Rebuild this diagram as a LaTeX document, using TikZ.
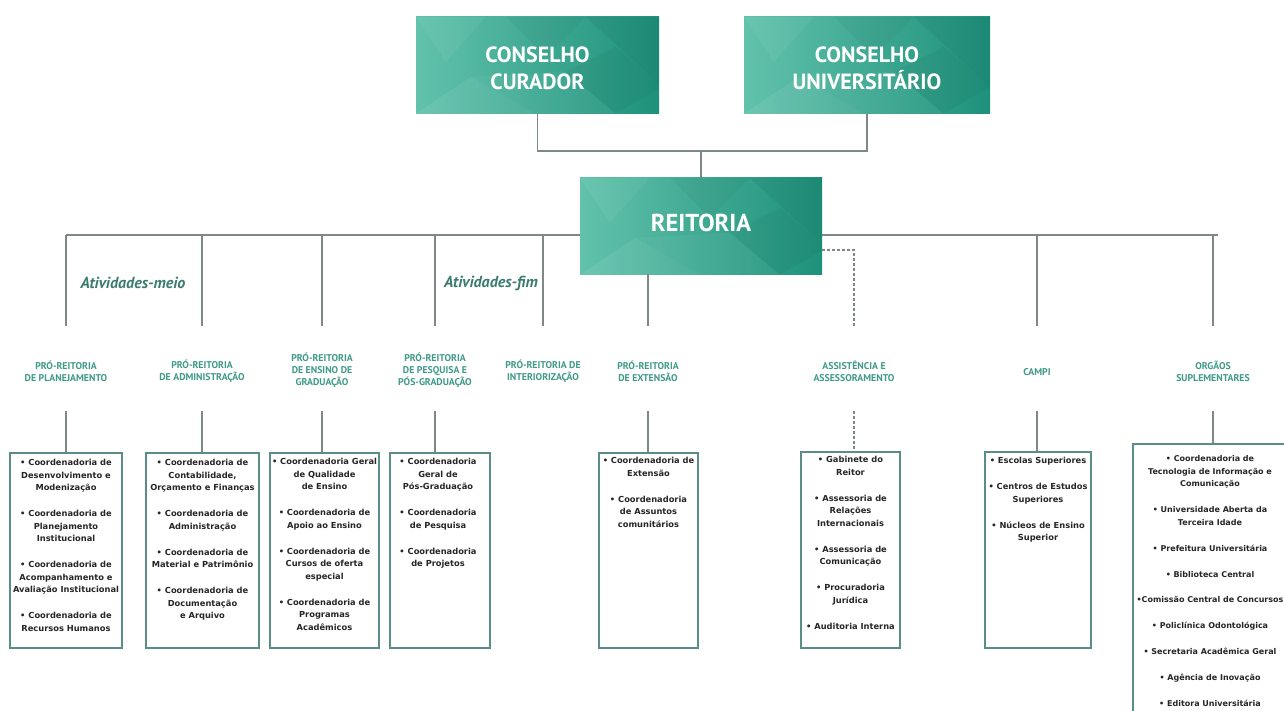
\documentclass[tikz,border=0pt]{standalone}
\usepackage{fontspec}
\setmainfont{PT Sans}
\newfontfamily\boxfont{DejaVu Sans}
\definecolor{tealL}{HTML}{62C2AC}
\definecolor{tealD}{HTML}{1E917B}
\definecolor{lineC}{HTML}{7E8888}
\definecolor{boxC}{HTML}{5A8D88}
\definecolor{hdrC}{HTML}{3F9A87}
\definecolor{atvC}{HTML}{3A7C70}
\newcommand{\isep}{\\[13.5pt]}
\newcommand{\facets}[1]{%
  \begin{scope}
    \clip (#1.north west) rectangle (#1.south east);
    \begin{scope}[shift={(#1.north west)}]
      \fill[white,opacity=.07] (0,97) -- (55,60) -- (120,97) -- cycle;
      \fill[white,opacity=.05] (0,0) -- (70,0) -- (30,45) -- cycle;
      \fill[white,opacity=.04] (55,60) -- (120,97) -- (150,55) -- cycle;
      \fill[black,opacity=.05] (170,0) -- (246,0) -- (246,70) -- cycle;
      \fill[black,opacity=.04] (150,55) -- (200,97) -- (246,70) -- (200,30) -- cycle;
      \fill[black,opacity=.03] (90,0) -- (170,0) -- (130,40) -- cycle;
      \fill[white,opacity=.04] (120,97) -- (200,97) -- (150,55) -- cycle;
    \end{scope}
  \end{scope}}
\begin{document}
\begin{tikzpicture}[x=1pt,y=-1pt,
  conn/.style={draw=lineC, line width=1.2pt},
  dconn/.style={draw=lineC, line width=1.2pt, dash pattern=on 3pt off 2pt},
  topbox/.style={rectangle, inner sep=0, left color=tealL, right color=tealD},
  toptext/.style={text=white, font=\bfseries\fontsize{22}{27}\selectfont, align=center, inner sep=0},
  hdr/.style={text=hdrC, font=\bfseries\fontsize{9.8}{12}\selectfont, align=center, inner sep=0},
  obox/.style={draw=boxC, line width=1.2pt, rectangle, inner sep=0},
  otext/.style={text=black!85, font=\boxfont\bfseries\fontsize{8.3}{12.5}\selectfont, align=center, inner sep=0, anchor=north},
  atv/.style={text=atvC, font=\bfseries\itshape\fontsize{16}{18}\selectfont, inner sep=0}
]
\useasboundingbox (0,0) rectangle (1284,711);
\clip (0,0) rectangle (1284,711);
\fill[white] (0,0) rectangle (1284,711);

% bus coordinates
\coordinate (jt) at (701,151);
\coordinate (busL) at (66,235);
\coordinate (busR) at (1218,235);
\coordinate (dend) at (0,326);
\coordinate (hbot) at (0,411);

% headers
\node[hdr] (h1) at (66,371) {PRÓ-REITORIA\\DE PLANEJAMENTO};
\node[hdr] (h2) at (202,371) {PRÓ-REITORIA\\DE ADMINISTRAÇÃO};
\node[hdr] (h3) at (322,370) {PRÓ-REITORIA\\DE ENSINO DE\\GRADUAÇÃO};
\node[hdr] (h4) at (435,370) {PRÓ-REITORIA\\DE PESQUISA E\\PÓS-GRADUAÇÃO};
\node[hdr] (h5) at (543,371) {PRÓ-REITORIA DE\\INTERIORIZAÇÃO};
\node[hdr] (h6) at (648,371) {PRÓ-REITORIA\\DE EXTENSÃO};
\node[hdr] (h7) at (854,371) {ASSISTÊNCIA E\\ASSESSORAMENTO};
\node[hdr] (h8) at (1037,372) {CAMPI};
\node[hdr] (h9) at (1213,371) {ORGÃOS\\SUPLEMENTARES};

% top connectors
\draw[conn] (busL) -- (busR);
\foreach \h in {h1,h2,h3,h4,h5,h8,h9}{
  \draw[conn] (\h |- busL) -- (\h |- dend);
}

% boxes (outline)
\node[obox, minimum width=112pt, minimum height=195pt] (b1) at (66,550.5) {};
\node[obox, minimum width=113pt, minimum height=195pt] (b2) at (202.5,550.5) {};
\node[obox, minimum width=109pt, minimum height=195pt] (b3) at (324.5,550.5) {};
\node[obox, minimum width=100pt, minimum height=195pt] (b4) at (440,550.5) {};
\node[obox, minimum width=99pt, minimum height=195pt] (b6) at (648.5,550.5) {};
\node[obox, minimum width=99pt, minimum height=196pt] (b7) at (850.5,550) {};
\node[obox, minimum width=106pt, minimum height=196pt] (b8) at (1038,550) {};
\node[obox, minimum width=170pt, minimum height=290pt] (b9) at (1218,589) {};

% lower drops
\draw[conn] (h1 |- hbot) -- (h1 |- b1.north);
\draw[conn] (h2 |- hbot) -- (h2 |- b2.north);
\draw[conn] (h3 |- hbot) -- (h3 |- b3.north);
\draw[conn] (h4 |- hbot) -- (h4 |- b4.north);
\draw[conn] (h6 |- hbot) -- (h6 |- b6.north);
\draw[dconn] (h7 |- hbot) -- (h7 |- b7.north);
\draw[conn] (h8 |- hbot) -- (h8 |- b8.north);
\draw[conn] (h9 |- hbot) -- (h9 |- b9.north);

% box texts
\node[otext] (t1) at (66,459) {• Coordenadoria de\\Desenvolvimento e\\Modenização\isep • Coordenadoria de\\Planejamento\\Institucional\isep • Coordenadoria de\\Acompanhamento e\\Avaliação Institucional\isep • Coordenadoria de\\Recursos Humanos};
\node[otext] (t2) at (202.5,459) {• Coordenadoria de\\Contabilidade,\\Orçamento e Finanças\isep • Coordenadoria de\\Administração\isep • Coordenadoria de\\Material e Patrimônio\isep • Coordenadoria de\\Documentação\\e Arquivo};
\node[otext] (t3) at (324.5,458) {• Coordenadoria Geral\\de Qualidade\\de Ensino\isep • Coordenadoria de\\Apoio ao Ensino\isep • Coordenadoria de\\Cursos de oferta\\especial\isep • Coordenadoria de\\Programas\\Acadêmicos};
\node[otext] (t4) at (438,458) {• Coordenadoria\\Geral de\\Pós-Graduação\isep • Coordenadoria\\de Pesquisa\isep • Coordenadoria\\de Projetos};
\node[otext] (t6) at (648.5,457) {• Coordenadoria de\\Extensão\isep • Coordenadoria\\de Assuntos\\comunitários};
\node[otext] (t7) at (850.5,456) {• Gabinete do\\Reitor\isep • Assessoria de\\Relações\\Internacionais\isep • Assessoria de\\Comunicação\isep • Procuradoria\\Jurídica\isep • Auditoria Interna};
\node[otext] (t8) at (1038,457) {• Escolas Superiores\isep • Centros de Estudos\\Superiores\isep • Núcleos de Ensino\\Superior};
\node[otext, font=\boxfont\bfseries\fontsize{8}{12.8}\selectfont] (t9) at (1210,455) {• Coordenadoria de\\Tecnologia de Informação e\\Comunicação\\[13pt] • Universidade Aberta da\\Terceira Idade\\[13pt] • Prefeitura Universitária\\[13pt] • Biblioteca Central\\[13pt] •Comissão Central de Concursos\\[13pt] • Policlínica Odontológica\\[13pt] • Secretaria Acadêmica Geral\\[13pt] • Agência de Inovação\\[13pt] • Editora Universitária};

% activity labels
\node[atv] (am) at (133,283) {Atividades-meio};
\node[atv] (af) at (491,283) {Atividades-fim};

% top boxes
\node[topbox, minimum width=243pt, minimum height=97pt] (cc) at (537.5,65.5) {};
\facets{cc}
\node[toptext] (cct) at (537.5,68.5) {CONSELHO\\CURADOR};
\node[topbox, minimum width=246pt, minimum height=97pt] (cu) at (867,65.5) {};
\facets{cu}
\node[toptext] (cut) at (867,68.5) {CONSELHO\\UNIVERSITÁRIO};
\draw[conn] (cc.south) |- (jt) -| (cu.south);
\node[topbox, minimum width=242pt, minimum height=96pt] (rt) at (701,226) {};
\facets{rt}
\node[toptext, font=\bfseries\fontsize{24.5}{28}\selectfont] (rtt) at (701,223) {REITORIA};
\draw[conn] (rt.north) -- (jt);
\draw[conn] (h6 |- rt.south) -- (h6 |- dend);
\coordinate (dsh) at (rt.east |- 0,250);
\draw[dconn] (dsh) -| (h7 |- dend);
\end{tikzpicture}
\end{document}
